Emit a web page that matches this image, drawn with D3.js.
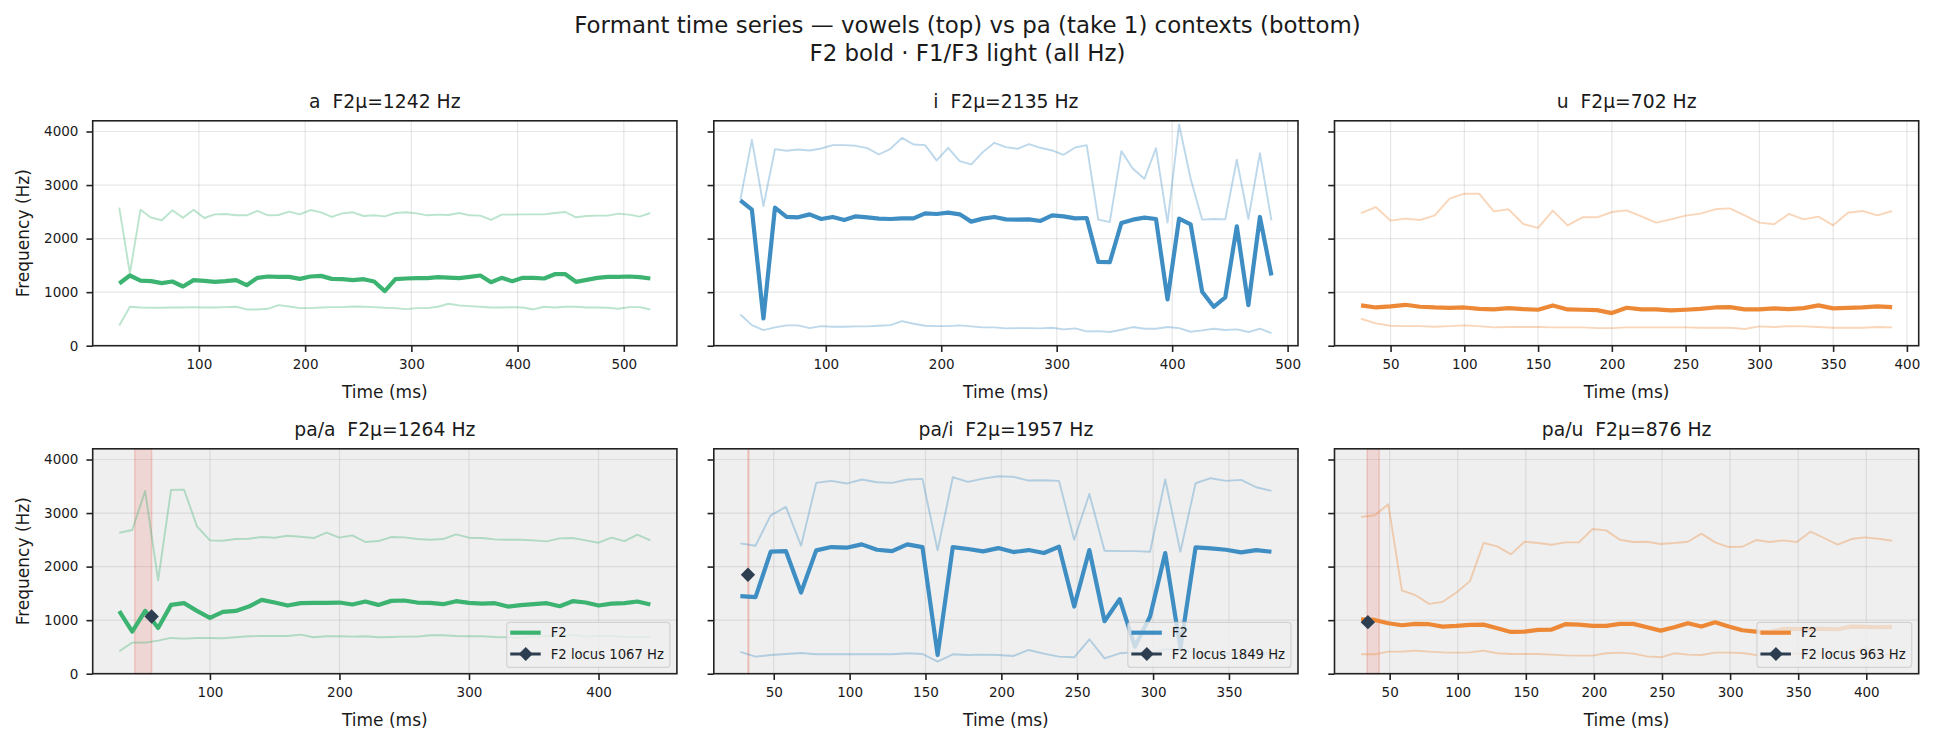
<!DOCTYPE html>
<html>
<head>
<meta charset="utf-8">
<script src="https://cdn.jsdelivr.net/npm/d3@7"></script>
<style>
  body { margin: 0; background: #fff; }
  text { font-family: "DejaVu Sans", sans-serif; fill: #1a1a1a; }
</style>
</head>
<body>
<svg width="1935" height="745"></svg>

<script>
// ---- vowel /a/ ----
var aTime = [25,35,45,55,65,75,85,95,105,115,125,135,145,155,165,175,185,195,205,215,225,235,245,255,265,275,285,295,305,315,325,335,345,355,365,375,385,395,405,415,425,435,445,455,465,475,485,495,505,515,525];
var aF1 = [379,727,714,708,708,714,714,720,714,714,720,727,677,677,689,758,733,702,702,714,720,720,733,727,720,708,702,683,702,702,727,783,752,739,727,714,714,720,714,677,727,714,727,727,714,714,708,689,720,720,677];
var aF2 = [1161,1311,1217,1205,1168,1199,1106,1224,1211,1193,1205,1224,1130,1267,1292,1286,1286,1248,1292,1304,1248,1242,1224,1242,1199,1019,1242,1255,1261,1261,1280,1273,1261,1286,1311,1186,1267,1205,1267,1267,1255,1335,1335,1193,1230,1267,1286,1286,1292,1280,1255];
var aF3 = [2578,1348,2540,2391,2342,2528,2391,2540,2385,2453,2460,2435,2435,2516,2435,2441,2503,2453,2534,2491,2404,2472,2491,2422,2435,2416,2478,2491,2472,2435,2447,2441,2478,2435,2429,2348,2447,2447,2453,2453,2453,2478,2497,2398,2422,2429,2429,2466,2447,2410,2478];

// ---- vowel /i/ ----
var iTime = [26,36,46,56,66,76,86,96,106,116,126,136,146,156,166,176,186,196,206,216,226,236,246,256,266,276,286,296,306,316,326,336,346,356,366,376,386,396,406,416,426,436,446,456,466,476,486];
var iF1 = [584,385,292,342,379,379,329,366,354,354,360,360,373,385,460,410,373,366,366,379,360,342,342,323,329,329,323,335,304,323,267,273,255,298,348,317,317,348,329,261,286,317,292,304,255,317,236];
var iF2 = [2714,2540,509,2578,2404,2398,2453,2366,2404,2348,2416,2398,2373,2366,2379,2379,2472,2460,2484,2453,2317,2373,2404,2360,2354,2360,2329,2435,2416,2379,2385,1565,1559,2292,2354,2391,2366,863,2373,2267,1006,727,901,2230,758,2404,1311];
var iF3 = [2727,3845,2609,3671,3640,3665,3646,3683,3745,3745,3733,3689,3571,3677,3882,3758,3745,3460,3696,3447,3385,3615,3789,3708,3677,3764,3696,3646,3565,3702,3745,2354,2311,3634,3304,3118,3689,2298,4130,3118,2354,2366,2360,3472,2366,3596,2342];

// ---- vowel /u/ ----
var uTime = [30,40,50,60,70,80,90,100,110,120,130,140,150,160,170,180,190,200,210,220,230,240,250,260,270,280,290,300,310,320,330,340,350,360,370,380,390];
var uF1 = [503,416,373,366,366,354,366,379,366,342,348,348,348,342,342,342,329,329,342,342,342,342,342,335,335,335,311,360,348,366,360,348,335,335,335,348,342];
var uF2 = [752,714,733,764,727,714,708,714,689,677,702,683,671,752,677,671,665,609,708,677,677,658,671,689,714,720,677,677,696,683,702,752,696,708,714,733,720];
var uF3 = [2478,2590,2335,2373,2348,2435,2745,2839,2839,2509,2547,2273,2199,2522,2248,2398,2398,2497,2528,2416,2298,2360,2429,2466,2547,2565,2435,2298,2267,2460,2360,2410,2248,2484,2516,2435,2516];

// ---- pa/a ----
var paTime = [30,40,50,60,70,80,90,100,110,120,130,140,150,160,170,180,190,200,210,220,230,240,250,260,270,280,290,300,310,320,330,340,350,360,370,380,390,400,410,420,430,440];
var paF1 = [418,580,580,618,668,655,668,668,661,680,699,705,705,705,730,680,699,699,693,699,680,686,693,693,718,718,705,699,699,686,680,668,693,705,718,730,693,705,705,686,686,686];
var paF2 = [1167,786,1173,855,1285,1317,1173,1042,1154,1173,1254,1379,1329,1273,1317,1323,1323,1329,1292,1348,1285,1360,1367,1329,1323,1298,1354,1323,1310,1317,1254,1279,1298,1317,1260,1354,1329,1273,1310,1317,1348,1292];
var paF3 = [2633,2683,3413,1741,3432,3438,2752,2490,2484,2515,2521,2552,2540,2577,2558,2534,2633,2540,2583,2459,2477,2552,2546,2515,2502,2515,2602,2540,2534,2509,2502,2502,2490,2471,2527,2534,2490,2446,2540,2477,2596,2490];

// ---- pa/i ----
var piTime = [28,38,48,58,68,78,88,98,108,118,128,138,148,158,168,178,188,198,208,218,228,238,248,258,268,278,288,298,308,318,328,338,348,358,368,378];
var piF1 = [406,318,349,368,387,362,362,362,362,362,362,381,368,225,362,349,356,349,331,443,374,318,306,643,287,381,399,381,456,456,381,381,381,381,381,381];
var piF2 = [1448,1429,2278,2290,1516,2303,2365,2353,2415,2315,2290,2415,2365,349,2365,2328,2284,2346,2271,2309,2253,2371,1254,2309,980,1392,505,1067,2253,474,2359,2340,2315,2265,2309,2278];
var piF3 = [2434,2390,2958,3114,2390,3563,3601,3551,3626,3576,3563,3626,3638,2303,3669,3582,3644,3688,3676,3607,3613,3601,2502,3357,2296,2290,2290,2278,3626,2278,3557,3651,3601,3620,3482,3413];

// ---- pa/u ----
var puTime = [29,39,49,59,69,79,89,99,109,119,129,139,149,159,169,179,189,199,209,219,229,239,249,259,269,279,289,299,309,319,329,339,349,359,369,379,389,399,409,419];
var puF1 = [362,362,412,412,431,412,399,393,399,431,381,368,368,368,356,343,337,337,381,393,374,324,306,381,356,349,393,393,387,349,349,368,381,381,381,381,393,493,349,349];
var puF2 = [1017,1004,942,905,930,924,880,892,911,917,849,780,786,817,824,924,917,892,892,930,930,867,805,867,942,880,961,880,811,786,780,836,836,836,836,830,880,874,867,874];
var puF3 = [2927,2958,3164,1554,1466,1304,1342,1516,1729,2440,2377,2228,2465,2440,2409,2452,2452,2702,2677,2502,2459,2465,2421,2440,2465,2615,2452,2365,2371,2496,2459,2490,2459,2652,2534,2409,2515,2546,2521,2484];

// burst window (ms) and F2 locus for the pa contexts
var burstStart = [42, 33, 33.5];
var burstEnd   = [55, 33.6, 42.3];
var locusTime  = [55, 33, 34];
var locusHz    = [1067, 1849, 963];

var titles = ["a  F2μ=1242 Hz", "i  F2μ=2135 Hz", "u  F2μ=702 Hz",
              "pa/a  F2μ=1264 Hz", "pa/i  F2μ=1957 Hz", "pa/u  F2μ=876 Hz"];
var xTickVals = [[100,200,300,400,500], [100,200,300,400,500], [50,100,150,200,250,300,350,400],
                 [100,200,300,400], [50,100,150,200,250,300,350], [50,100,150,200,250,300,350,400]];
var yTickVals = [0,1000,2000,3000,4000];

var green = "#3cb371", blue = "#3e8ec4", orange = "#ed8936", locusCol = "#2c3e50";

var panels = [
  { t: aTime,  f1: aF1,  f2: aF2,  f3: aF3,  col: green },
  { t: iTime,  f1: iF1,  f2: iF2,  f3: iF3,  col: blue },
  { t: uTime,  f1: uF1,  f2: uF2,  f3: uF3,  col: orange },
  { t: paTime, f1: paF1, f2: paF2, f3: paF3, col: green,  ctx: 0 },
  { t: piTime, f1: piF1, f2: piF2, f3: piF3, col: blue,   ctx: 1 },
  { t: puTime, f1: puF1, f2: puF2, f3: puF3, col: orange, ctx: 2 }
];

var svg = d3.select("svg");
var colX = [92.7, 713.8, 1334.5], colW = 584.2;
var rowY = [120.8, 448.8], rowH = 224.9;
var ink = "#222";

// suptitle
svg.append("text").attr("x", 967.5).attr("y", 33.3).attr("text-anchor", "middle")
  .style("font-size", "22.9px").text("Formant time series — vowels (top) vs pa (take 1) contexts (bottom)");
svg.append("text").attr("x", 967.5).attr("y", 60.8).attr("text-anchor", "middle")
  .style("font-size", "22.9px").text("F2 bold · F1/F3 light (all Hz)");

function diamond(r) { return "M0," + (-r) + "L" + r + ",0L0," + r + "L" + (-r) + ",0Z"; }

panels.forEach(function(p, k) {
  var c = k % 3, r = Math.floor(k / 3);
  var g = svg.append("g").attr("transform", "translate(" + colX[c] + "," + rowY[r] + ")");

  var lo = d3.min(p.t), hi = d3.max(p.t), pad = (hi - lo) * 0.05;
  var x = d3.scaleLinear().domain([lo - pad, hi + pad]).range([0, colW]);
  var y = d3.scaleLinear().domain([0, 4200]).range([rowH, 0]);

  g.append("rect").attr("width", colW).attr("height", rowH)
    .attr("fill", p.ctx === undefined ? "#fff" : "#efefef");

  // grid
  var grid = g.append("g").attr("stroke", "#b0b0b0").attr("stroke-opacity", 0.3).attr("stroke-width", 1.2);
  xTickVals[k].forEach(function(v) {
    grid.append("line").attr("x1", x(v)).attr("x2", x(v)).attr("y1", 0).attr("y2", rowH);
  });
  yTickVals.forEach(function(v) {
    grid.append("line").attr("x1", 0).attr("x2", colW).attr("y1", y(v)).attr("y2", y(v));
  });

  // burst band
  if (p.ctx !== undefined) {
    g.append("rect")
      .attr("x", x(burstStart[p.ctx])).attr("y", 0)
      .attr("width", x(burstEnd[p.ctx]) - x(burstStart[p.ctx])).attr("height", rowH)
      .attr("fill", "#e74c3c").attr("fill-opacity", 0.15)
      .attr("stroke", "#e74c3c").attr("stroke-opacity", 0.22).attr("stroke-width", 1.5);
  }

  var line = function(vals) {
    return d3.line().x(function(d, i) { return x(p.t[i]); }).y(function(d) { return y(d); })(vals);
  };
  [p.f3, p.f1].forEach(function(vals) {
    g.append("path").attr("d", line(vals)).attr("fill", "none")
      .attr("stroke", p.col).attr("stroke-opacity", 0.35).attr("stroke-width", 1.9)
      .attr("stroke-linejoin", "round");
  });
  g.append("path").attr("d", line(p.f2)).attr("fill", "none")
    .attr("stroke", p.col).attr("stroke-width", 4.2).attr("stroke-linejoin", "round");

  if (p.ctx !== undefined) {
    g.append("path").attr("d", diamond(7.2))
      .attr("transform", "translate(" + x(locusTime[p.ctx]) + "," + y(locusHz[p.ctx]) + ")")
      .attr("fill", locusCol);
  }

  // axes
  var xa = g.append("g").attr("transform", "translate(0," + rowH + ")")
    .call(d3.axisBottom(x).tickValues(xTickVals[k]).tickSize(6.25).tickPadding(7));
  var ya = g.append("g")
    .call(d3.axisLeft(y).tickValues(yTickVals).tickSize(6.25).tickPadding(8)
      .tickFormat(c === 0 ? d3.format("d") : function() { return ""; }));
  [xa, ya].forEach(function(a) {
    a.select(".domain").remove();
    a.selectAll(".tick line").attr("stroke", ink).attr("stroke-width", 1.6);
    a.selectAll(".tick text").style("font-size", "13.5px").style("font-family", "DejaVu Sans").attr("fill", ink);
  });

  g.append("rect").attr("width", colW).attr("height", rowH)
    .attr("fill", "none").attr("stroke", ink).attr("stroke-width", 1.6);

  g.append("text").attr("x", colW / 2).attr("y", -12.4).attr("text-anchor", "middle")
    .style("font-size", "18.75px").style("white-space", "pre").text(titles[k]);
  g.append("text").attr("x", colW / 2).attr("y", rowH + 52).attr("text-anchor", "middle")
    .style("font-size", "17px").text("Time (ms)");
  if (c === 0) {
    g.append("text").attr("transform", "translate(" + (22.7 - colX[0] + 6) + "," + (rowH / 2) + ") rotate(-90)")
      .attr("text-anchor", "middle").style("font-size", "17px").text("Frequency (Hz)");
  }

  // legend
  if (p.ctx !== undefined) {
    var lg = g.append("g");
    var box = lg.append("rect");
    var t1 = lg.append("text").style("font-size", "13.2px").text("F2");
    var t2 = lg.append("text").style("font-size", "13.2px").text("F2 locus " + locusHz[p.ctx] + " Hz");
    var tw = Math.max(t1.node().getComputedTextLength(), t2.node().getComputedTextLength());
    var bw = tw + 50, bh = 45;
    var bx = colW - 7 - bw, by = rowH - 6.4 - bh;
    box.attr("x", bx).attr("y", by).attr("width", bw).attr("height", bh).attr("rx", 3)
      .attr("fill", "#efefef").attr("fill-opacity", 0.8)
      .attr("stroke", "#cccccc").attr("stroke-opacity", 0.8).attr("stroke-width", 1.2);
    lg.append("line").attr("x1", bx + 3.5).attr("x2", bx + 34).attr("y1", by + 10.4).attr("y2", by + 10.4)
      .attr("stroke", p.col).attr("stroke-width", 4.2);
    lg.append("line").attr("x1", bx + 3.5).attr("x2", bx + 34).attr("y1", by + 31.7).attr("y2", by + 31.7)
      .attr("stroke", locusCol).attr("stroke-width", 3);
    lg.append("path").attr("d", diamond(7))
      .attr("transform", "translate(" + (bx + 19) + "," + (by + 31.7) + ")").attr("fill", locusCol);
    t1.attr("x", bx + 44).attr("y", by + 10.4 + 4.7);
    t2.attr("x", bx + 44).attr("y", by + 31.7 + 4.7);
  }
});
</script>
</body>
</html>
